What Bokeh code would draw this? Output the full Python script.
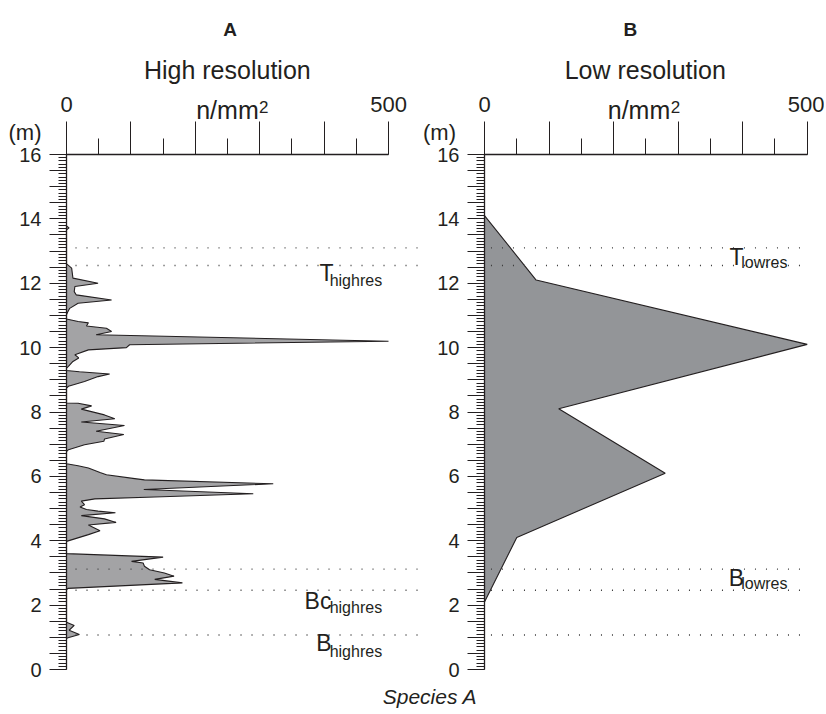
from bokeh.plotting import figure
from bokeh.models import FixedTicker, CustomJSTickFormatter, Label, ColumnDataSource, Range1d
from bokeh.layouts import row, column
from bokeh.embed import file_html
from bokeh.resources import INLINE
from bokeh.core.properties import value

# ---------------- data ----------------
# High resolution profile: depth (m) and concentration (n/mm2)
hr_depth = [13.78, 13.72, 13.66,
            12.60, 12.57, 12.47, 12.16, 12.00, 11.90, 11.74, 11.64, 11.48, 11.38, 11.22, 11.09, 11.02,
            10.89, 10.81, 10.77, 10.67, 10.60, 10.50, 10.40, 10.20, 10.09, 10.00, 9.93, 9.78, 9.68,
            9.57, 9.42, 9.36,
            9.29, 9.25, 9.18, 9.10, 8.95, 8.80, 8.74,
            8.28, 8.27, 8.19, 8.09, 7.91, 7.79, 7.69, 7.58, 7.40, 7.30, 7.16, 7.09, 6.98, 6.83, 6.77,
            6.39, 6.33, 6.26, 6.12, 6.05, 5.93, 5.89, 5.77, 5.59, 5.46, 5.36, 5.30, 5.23, 5.12, 5.05,
            4.97, 4.92, 4.87, 4.78, 4.68, 4.57, 4.49, 4.31, 4.19, 3.98,
            3.60, 3.49, 3.36, 3.31, 3.21, 3.10, 3.00, 2.90, 2.80, 2.69, 2.52, 2.47,
            1.47, 1.37, 1.22, 1.09, 0.98, 0.95]
hr_value = [0, 4, 0,
            0, 2, 8, 10, 49, 13, 12, 15, 70, 18, 5, 1.5, 0,
            0, 18, 34, 31, 62, 70, 46, 500, 98, 93, 34, 13, 19,
            10, 3, 0,
            0, 20, 67, 49, 28, 3, 0,
            0, 18, 39, 23, 59, 75, 23, 90, 46, 89, 59, 58, 28, 3, 0,
            0, 18, 34, 52, 62, 106, 121, 321, 120, 290, 137, 44, 23, 28, 21,
            31, 49, 76, 23, 59, 77, 34, 52, 34, 0,
            0, 150, 101, 119, 121, 129, 152, 167, 137, 180, 2, 0,
            0, 12, 4, 20, 1, 0]

# Low resolution profile
lr_depth = [2.1, 4.1, 6.1, 8.1, 10.1, 12.1, 14.1]
lr_value = [0, 50, 280, 115, 500, 80, 0]

# Horizon lines (m)
horizon_depth = [13.1, 12.55, 3.12, 2.46, 1.07]

# Horizon tags
tags_a_main = ["T", "Bc", "B"]
tags_a_sub = ["highres", "highres", "highres"]
tags_b_main = ["T", "B"]
tags_b_sub = ["lowres", "lowres"]

FONT = "Liberation Sans"
INK = "#231f20"

# ---------------- layout (pixels) ----------------
H = 683            # panel canvas height
Y_ZERO_PX = 669    # canvas px (from top) of depth 0
PX_PER_M = 515 / 16


def base_panel(width, x_zero_px, px_per_unit):
    x0 = -x_zero_px / px_per_unit
    x1 = x0 + width / px_per_unit
    y0 = -(H - Y_ZERO_PX) / PX_PER_M
    y1 = Y_ZERO_PX / PX_PER_M
    p = figure(width=width, height=H, x_range=Range1d(x0, x1), y_range=Range1d(y0, y1),
               x_axis_location="above", toolbar_location=None, output_backend="svg",
               min_border=0)
    p.grid.visible = False
    p.outline_line_color = None
    p.background_fill_color = "white"
    p.border_fill_color = "white"

    ya = p.yaxis[0]
    ya.fixed_location = 0
    ya.ticker = FixedTicker(ticks=[i * 0.5 for i in range(33)],
                            minor_ticks=[i / 10 for i in range(161)])
    ya.formatter = CustomJSTickFormatter(
        code="return (Math.abs(tick % 2) < 1e-6) ? tick.toFixed(0) : '';")
    ya.bounds = (0, 16)
    ya.major_tick_out = 17
    ya.major_tick_in = 0
    ya.minor_tick_out = 8
    ya.minor_tick_in = 0
    ya.major_label_standoff = 8
    ya.major_label_text_font = FONT
    ya.major_label_text_font_size = "20px"
    ya.major_label_text_color = INK
    ya.axis_line_color = INK
    ya.axis_line_width = 1.3
    ya.major_tick_line_color = INK
    ya.minor_tick_line_color = INK
    ya.major_tick_line_width = 1.2
    ya.minor_tick_line_width = 1.0

    xa = p.xaxis[0]
    xa.fixed_location = 16
    xa.ticker = FixedTicker(ticks=[0, 100, 200, 300, 400, 500],
                            minor_ticks=[0, 50, 100, 150, 200, 250, 300, 350, 400, 450, 500])
    xa.formatter = CustomJSTickFormatter(
        code="return (tick == 0 || tick == 500) ? tick.toFixed(0) : '';")
    xa.bounds = (0, 500)
    xa.major_tick_out = 33
    xa.major_tick_in = 0
    xa.minor_tick_out = 16
    xa.minor_tick_in = 0
    xa.major_label_standoff = 10
    xa.major_label_text_font = FONT
    xa.major_label_text_font_size = "22px"
    xa.major_label_text_color = INK
    xa.axis_line_color = INK
    xa.axis_line_width = 1.3
    xa.major_tick_line_color = INK
    xa.minor_tick_line_color = INK
    return p


def text_at(p, x, y, text, size, style="normal", align="center"):
    p.text(x=[x], y=[y], text=[text], text_font=value(FONT), text_font_size=size,
           text_font_style=style, text_color=INK, text_align=align,
           text_baseline="alphabetic")


def header(p, letter, letter_x, subtitle, sub_x, unit_x, sup_x, m_x):
    text_at(p, letter_x, 19.88, letter, "19px", "bold")
    text_at(p, sub_x, 18.62, subtitle, "25px")
    text_at(p, unit_x, 17.37, "n/mm", "25px", align="left")
    text_at(p, sup_x, 17.49, "2", "17px", align="left")
    text_at(p, m_x, 16.67, "(m)", "22px")


def tags(p, mains, subs, mx, my, sx, sy):
    src_m = ColumnDataSource(dict(x=mx, y=my, t=mains))
    src_s = ColumnDataSource(dict(x=sx, y=sy, t=subs))
    p.text(x="x", y="y", text="t", source=src_m, text_font=value(FONT), text_font_size="23px",
           text_color=INK, text_align="left", text_baseline="alphabetic")
    p.text(x="x", y="y", text="t", source=src_s, text_font=value(FONT), text_font_size="16px",
           text_color=INK, text_align="left", text_baseline="alphabetic")


# ---------------- panel A ----------------
pa = base_panel(419, 66, 351 / 545)
pa.harea(y=hr_depth, x1=0, x2=hr_value, fill_color="#a3a3a5", fill_alpha=1.0)
pa.line(x=hr_value, y=hr_depth, line_color=INK, line_width=1.1)
pa.segment(x0=[14] * len(horizon_depth), x1=[545] * len(horizon_depth),
           y0=horizon_depth, y1=horizon_depth, line_color="#3a3a3a", line_width=1.4,
           line_dash="1 10")
header(pa, "A", 253.9, "High resolution", 249.7, 201.4, 299.0, -64.4)
tags(pa, tags_a_main, tags_a_sub,
     [393, 369.6, 387.8], [12.31, 2.12, 0.81],
     [408.6, 408.6, 408.6], [12.1, 1.92, 0.57])

# ---------------- panel B ----------------
pb = base_panel(405, 65, 324 / 502)
pb.harea(y=lr_depth, x1=0, x2=lr_value, fill_color="#939598", fill_alpha=1.0)
pb.line(x=lr_value, y=lr_depth, line_color=INK, line_width=1.1)
pb.segment(x0=[10] * len(horizon_depth), x1=[500] * len(horizon_depth),
           y0=horizon_depth, y1=horizon_depth, line_color="#3a3a3a", line_width=1.4,
           line_dash="1 10")
header(pb, "B", 225.9, "Low resolution", 249.1, 191.0, 288.7, -69.7)
tags(pb, tags_b_main, tags_b_sub,
     [379.7, 378.6], [12.81, 2.85],
     [397.8, 397.8], [12.64, 2.67])

# ---------------- footer ----------------
pf = figure(width=824, height=26, x_range=Range1d(0, 1), y_range=Range1d(0, 1),
            x_axis_location=None, y_axis_location=None, toolbar_location=None,
            output_backend="svg", min_border=0)
pf.grid.visible = False
pf.outline_line_color = None
pf.add_layout(Label(x=(430.5 - 1) / 824, y=0.5, text="Species A", text_font=FONT,
                    text_font_style="italic", text_font_size="21px", text_align="center",
                    text_baseline="middle", text_color=INK))

layout = column(row(pa, pb), pf)
open("out.html", "w").write(file_html(layout, INLINE))
